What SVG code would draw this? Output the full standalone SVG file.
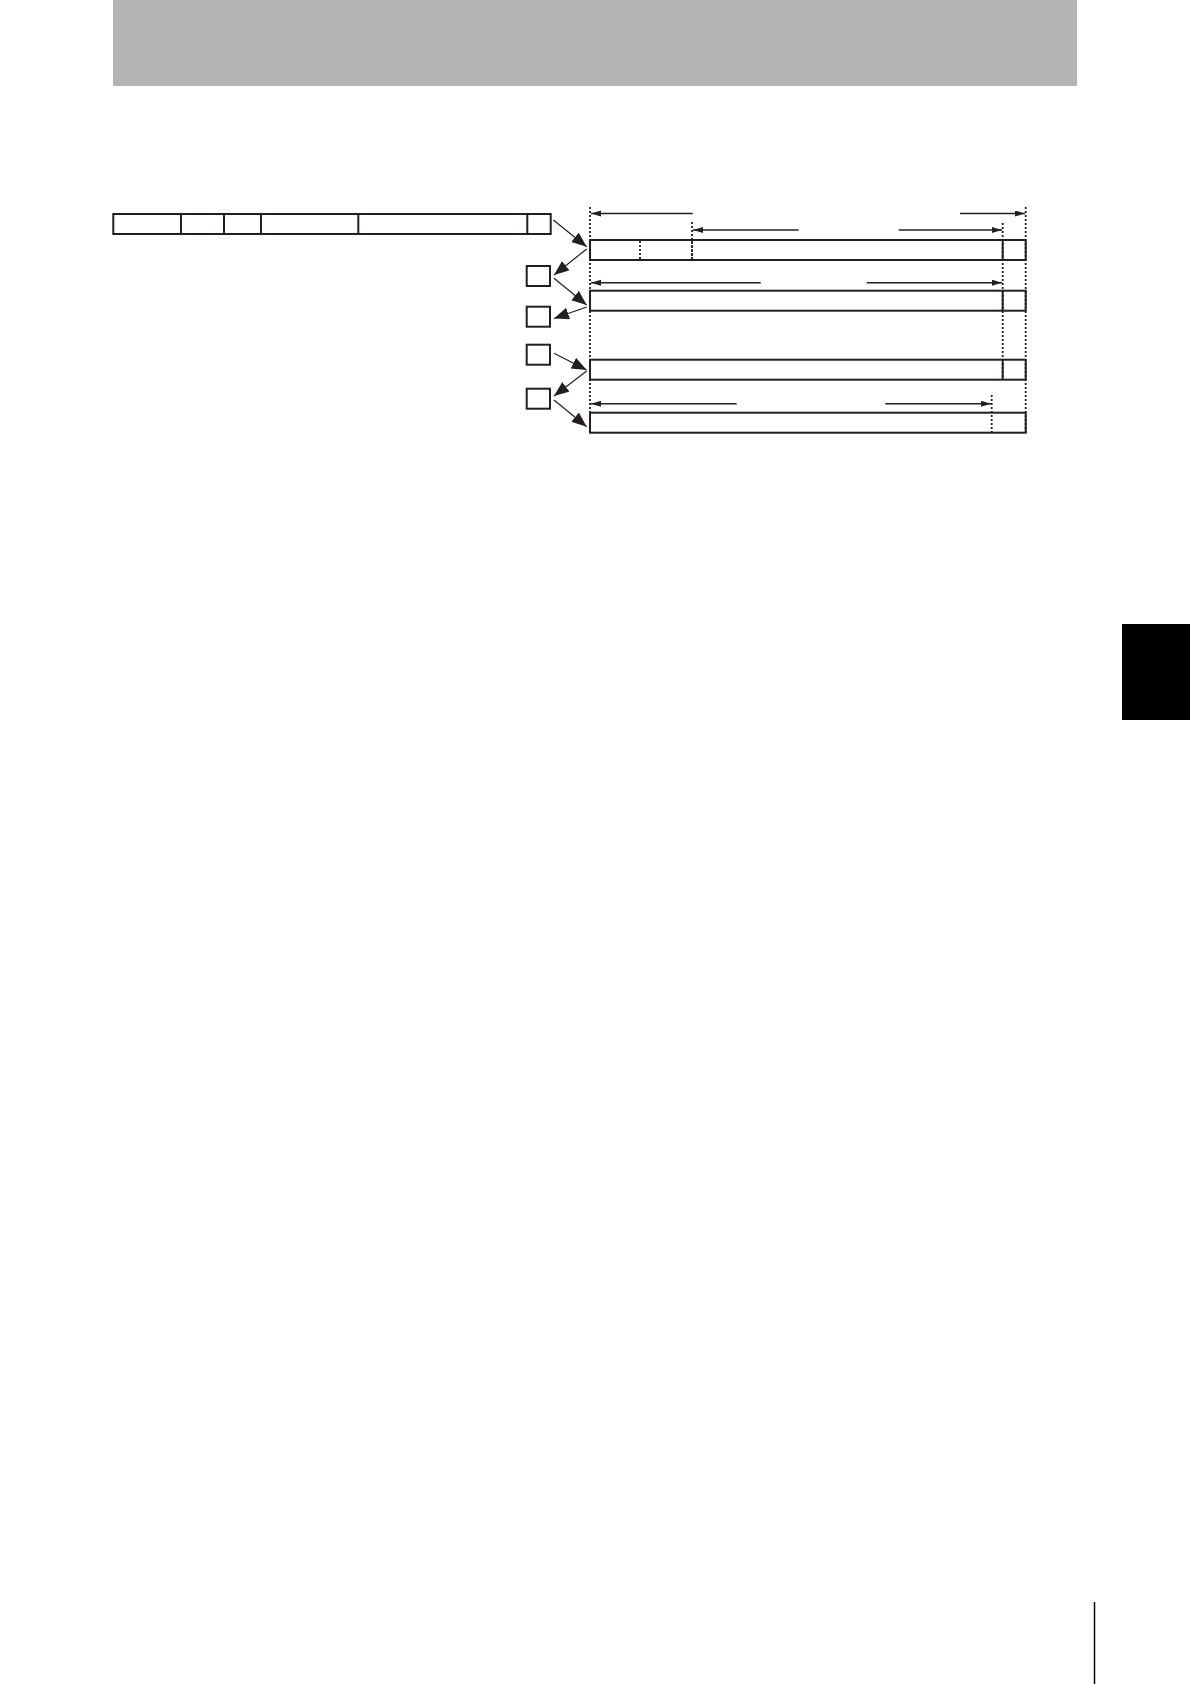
<svg xmlns="http://www.w3.org/2000/svg" width="1190" height="1684" viewBox="0 0 1190 1684">
<defs>
<style>
.box{fill:#fff;stroke:#231f20;stroke-width:2}
.div{stroke:#231f20;stroke-width:2}
.dot{stroke:#231f20;stroke-width:1.8;stroke-dasharray:2,2;fill:none}
.arr{stroke:#231f20;stroke-width:1.6;fill:none;marker-end:url(#sa)}
.diag{stroke:#231f20;stroke-width:1.2;fill:none;marker-end:url(#ba)}
</style>
<marker id="ba" markerUnits="userSpaceOnUse" markerWidth="16" markerHeight="13" refX="15" refY="6" orient="auto">
<path d="M0,0 L15,6 L0,12 z" fill="#231f20"/>
</marker>
<marker id="sa" markerUnits="userSpaceOnUse" markerWidth="11" markerHeight="7" refX="10" refY="3" orient="auto">
<path d="M0,0 L10,3 L0,6 z" fill="#231f20"/>
</marker>
</defs>
<rect x="0" y="0" width="1190" height="1684" fill="#fff"/>
<g id="header"><rect x="113" y="0" width="964" height="86" fill="#b3b3b3"/></g>
<g id="tab"><rect x="1122" y="624" width="68" height="96" fill="#000"/></g>
<g id="footer-line"><line x1="1094.5" y1="1602" x2="1094.5" y2="1684" stroke="#000" stroke-width="1.5"/></g>

<g id="top-bar">
<rect class="box" x="113.3" y="214" width="437.4" height="20"/>
<line class="div" x1="181" y1="214" x2="181" y2="234"/>
<line class="div" x1="224" y1="214" x2="224" y2="234"/>
<line class="div" x1="261" y1="214" x2="261" y2="234"/>
<line class="div" x1="358.3" y1="214" x2="358.3" y2="234"/>
<line class="div" x1="527.3" y1="214" x2="527.3" y2="234"/>
</g>

<g id="box1"><rect class="box" x="526.7" y="266" width="23.3" height="20"/></g>
<g id="box2"><rect class="box" x="526.7" y="306.7" width="23.3" height="20"/></g>
<g id="box3"><rect class="box" x="526.7" y="344.7" width="23.3" height="20"/></g>
<g id="box4"><rect class="box" x="526.7" y="388.7" width="23.3" height="20"/></g>

<g id="guides">
<line class="dot" x1="590" y1="207" x2="590" y2="433"/>
<line class="dot" x1="1025.7" y1="207" x2="1025.7" y2="433"/>
<line class="dot" x1="1002.7" y1="223" x2="1002.7" y2="380"/>
<line class="dot" x1="692" y1="222" x2="692" y2="260"/>
<line class="dot" x1="991.7" y1="395" x2="991.7" y2="433"/>
</g>

<g id="row1">
<rect class="box" x="590" y="240" width="435.7" height="20" fill="none" style="fill:none"/>
<line class="dot" x1="640" y1="241" x2="640" y2="259"/>
<line class="dot" x1="692" y1="241" x2="692" y2="259"/>
<line class="div" x1="1002.7" y1="240" x2="1002.7" y2="260"/>
</g>
<g id="row2">
<rect class="box" x="590" y="290.7" width="435.7" height="20" style="fill:none"/>
<line class="div" x1="1002.7" y1="290.7" x2="1002.7" y2="310.7"/>
</g>
<g id="row3">
<rect class="box" x="590" y="359.7" width="435.7" height="20" style="fill:none"/>
<line class="div" x1="1002.7" y1="359.7" x2="1002.7" y2="379.7"/>
</g>
<g id="row4">
<rect class="box" x="590" y="412.7" width="435.7" height="20" style="fill:none"/>
</g>

<g id="connectors">
<line class="arr" x1="692.7" y1="213.5" x2="591" y2="213.5"/>
<line class="arr" x1="960" y1="213.5" x2="1025" y2="213.5"/>
<line class="arr" x1="798.7" y1="230" x2="693" y2="230"/>
<line class="arr" x1="898.7" y1="230" x2="1002" y2="230"/>
<line class="arr" x1="760.7" y1="282.7" x2="591" y2="282.7"/>
<line class="arr" x1="866.7" y1="282.7" x2="1002" y2="282.7"/>
<line class="arr" x1="736.7" y1="403.7" x2="591" y2="403.7"/>
<line class="arr" x1="885.3" y1="403.7" x2="991" y2="403.7"/>

<line class="diag" x1="553.3" y1="220" x2="586.7" y2="246.7"/>
<line class="diag" x1="586.7" y1="249" x2="554" y2="275"/>
<line class="diag" x1="554" y1="278.3" x2="586.7" y2="305"/>
<line class="diag" x1="586.7" y1="307" x2="554" y2="318.5"/>
<line class="diag" x1="554" y1="353.3" x2="586.7" y2="370"/>
<line class="diag" x1="586.7" y1="371" x2="554" y2="396"/>
<line class="diag" x1="554" y1="400" x2="586.7" y2="426.7"/>
</g>
</svg>
